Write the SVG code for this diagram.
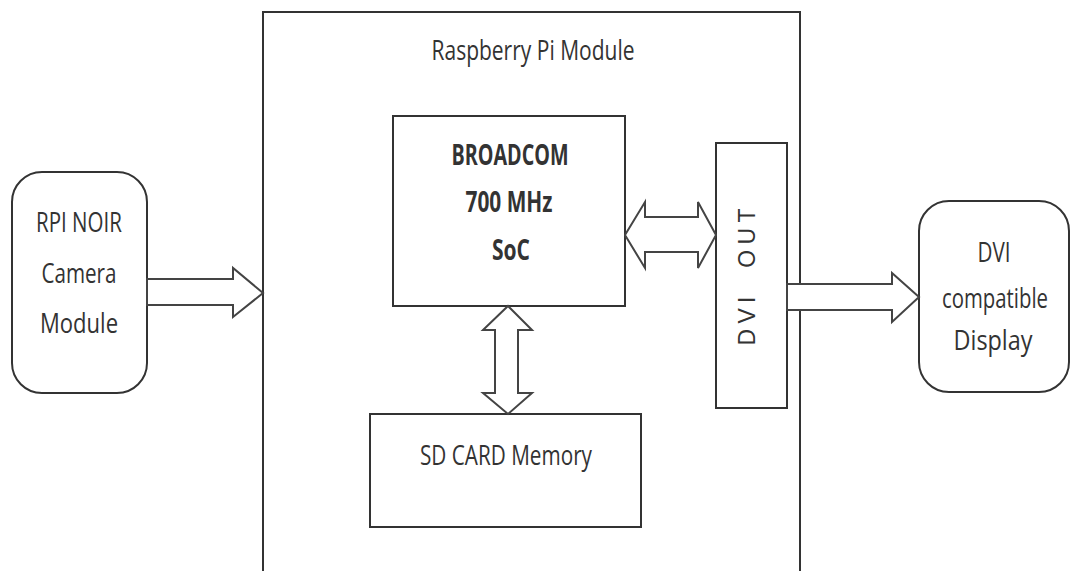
<svg xmlns="http://www.w3.org/2000/svg" width="1071" height="571" viewBox="0 0 1071 571">
<style>
.box{fill:#fff;stroke:#333;stroke-width:2}
.arr{fill:#fff;stroke:#444;stroke-width:2;stroke-linejoin:miter}
.t{font-family:"Open Sans","Liberation Sans",sans-serif;font-size:28px;fill:#333;text-anchor:middle}
.b{font-weight:bold}
</style>
<rect width="1071" height="571" fill="#fff"/>
<g id="rpi-module">
<path class="box" d="M263,580 V12 H800 V580" fill="none"/>
<text class="t" x="533" y="60" textLength="203" lengthAdjust="spacingAndGlyphs">Raspberry Pi Module</text>
</g>
<g id="camera">
<rect class="box" x="12" y="172" width="135" height="221" rx="30"/>
<text class="t" x="79" y="232" textLength="86" lengthAdjust="spacingAndGlyphs">RPI NOIR</text>
<text class="t" x="79" y="283" textLength="75" lengthAdjust="spacingAndGlyphs">Camera</text>
<text class="t" x="79" y="333" textLength="78" lengthAdjust="spacingAndGlyphs">Module</text>
</g>
<g id="soc">
<rect class="box" x="393" y="116" width="232" height="190"/>
<text class="t b" x="510" y="165" textLength="117" lengthAdjust="spacingAndGlyphs">BROADCOM</text>
<text class="t b" x="509" y="212" textLength="87" lengthAdjust="spacingAndGlyphs">700 MHz</text>
<text class="t b" x="511" y="260" textLength="38" lengthAdjust="spacingAndGlyphs">SoC</text>
</g>
<g id="dvi-out">
<rect class="box" x="716" y="143" width="71" height="265"/>
<text class="t" transform="translate(755,277) rotate(-90)" x="0" y="0" style="font-family:'Liberation Sans',sans-serif;font-size:23px" xml:space="preserve" textLength="137" lengthAdjust="spacing">DVI  OUT</text>
</g>
<g id="sd-card">
<rect class="box" x="370" y="414" width="271" height="113"/>
<text class="t" x="506" y="465" textLength="172" lengthAdjust="spacingAndGlyphs">SD CARD Memory</text>
</g>
<g id="display">
<rect class="box" x="919" y="201" width="150" height="191" rx="30"/>
<text class="t" x="994" y="262" textLength="33" lengthAdjust="spacingAndGlyphs">DVI</text>
<text class="t" x="995" y="308" style="font-size:27px" textLength="106" lengthAdjust="spacingAndGlyphs">compatible</text>
<text class="t" x="993" y="350" textLength="79" lengthAdjust="spacingAndGlyphs">Display</text>
</g>
<g id="connectors">
<polygon class="arr" points="147,279 233,279 233,268 263,293 233,317 233,305 147,305"/>
<polygon class="arr" points="787,284 892,284 892,273 919,297 892,322 892,310 787,310"/>
<polygon class="arr" points="625,235 645,202 645,217 698,217 698,202 716,235 698,268 698,252 645,252 645,268"/>
<polygon class="arr" points="508,306 532,330 518,330 518,393 532,393 508,414 483,393 495,393 495,330 483,330"/>
</g>
</svg>
